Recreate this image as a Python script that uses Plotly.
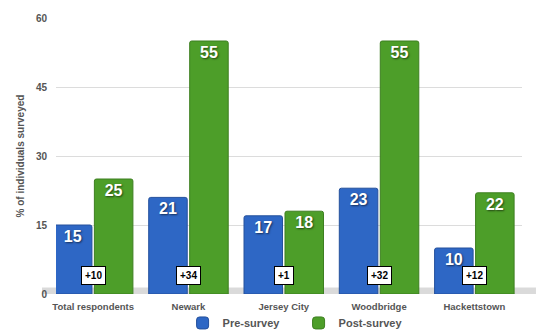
import plotly.graph_objects as go

# Survey results by location
categories = ["Total respondents", "Newark", "Jersey City", "Woodbridge", "Hackettstown"]
pre_survey = [15, 21, 17, 23, 10]
post_survey = [25, 55, 18, 55, 22]
change_labels = ["+10", "+34", "+1", "+32", "+12"]
y_ticks = [0, 15, 30, 45, 60]

BLUE = "#2E67C5"
GREEN = "#4D9E29"
GREY_TEXT = "#555555"
LABEL_FONT = "Liberation Sans, Arial, sans-serif"

value_font = dict(family="Liberation Sans, Arial, sans-serif", size=16, color="white",
                  weight="bold", shadow="1px 1px 2px rgba(0,0,0,0.55)")

fig = go.Figure()
fig.add_trace(go.Bar(
    name="Pre-survey", x=categories, y=pre_survey,
    marker=dict(color=BLUE, line=dict(color="#24509c", width=1), cornerradius=2),
    text=[str(v) for v in pre_survey], textposition="inside",
    insidetextanchor="end", textangle=0, textfont=value_font,
    constraintext="none", cliponaxis=False,
))
fig.add_trace(go.Bar(
    name="Post-survey", x=categories, y=post_survey,
    marker=dict(color=GREEN, line=dict(color="#3d7f20", width=1), cornerradius=2),
    text=[str(v) for v in post_survey], textposition="inside",
    insidetextanchor="end", textangle=0, textfont=value_font,
    constraintext="none", cliponaxis=False,
))

# Change boxes sitting between each pair of bars
for cat, lab in zip(categories, change_labels):
    fig.add_annotation(
        x=cat, y=4, text="<b>%s</b>" % lab, showarrow=False,
        font=dict(family="Liberation Sans, Arial, sans-serif", size=10, color="black"),
        bgcolor="white", bordercolor="black", borderwidth=1, borderpad=3,
    )

# Soft floor shadow under the bars
fig.add_shape(type="rect", xref="paper", yref="y", x0=-0.03, x1=1.03, y0=-0.8, y1=1.4,
              fillcolor="rgba(150,150,150,0.35)", line=dict(width=0), layer="below")

fig.update_layout(
    width=537, height=335,
    margin=dict(l=56, r=15, t=18, b=41, autoexpand=False),
    paper_bgcolor="white", plot_bgcolor="white",
    barmode="group", bargap=0.14, bargroupgap=0.06,
    showlegend=True,
    legend=dict(orientation="h", x=0.34, xanchor="left", xref="container",
                y=0.036, yanchor="middle", yref="container",
                bgcolor="rgba(0,0,0,0)",
                entrywidth=71, entrywidthmode="pixels",
                font=dict(family=LABEL_FONT, size=11, color=GREY_TEXT, weight="bold")),
    xaxis=dict(range=[-0.39, 4.5], showgrid=False, zeroline=False, showline=False,
               automargin=False, ticks="", ticklabelstandoff=5,
               tickfont=dict(family=LABEL_FONT, size=9.5, color=GREY_TEXT, weight="bold")),
    yaxis=dict(range=[0, 60], tickvals=y_ticks, showgrid=True, gridcolor="#dcdcdc",
               gridwidth=1, zeroline=False, showline=False, ticks="", automargin=False,
               ticklabelstandoff=8,
               tickfont=dict(family=LABEL_FONT, size=10, color=GREY_TEXT, weight="bold"),
               title=dict(text="% of individuals surveyed", standoff=9,
                          font=dict(family=LABEL_FONT, size=10, color=GREY_TEXT, weight="bold"))),
)

fig.write_html("out.html")
